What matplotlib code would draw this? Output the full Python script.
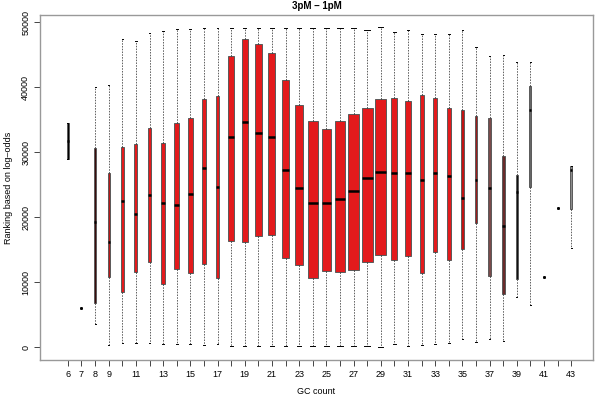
import matplotlib
matplotlib.use("Agg")
import matplotlib.pyplot as plt
import numpy as np

plt.rcParams['font.family'] = ['Liberation Sans', 'DejaVu Sans']

gc = [6, 8, 9, 10, 11, 12, 13, 14, 15, 16, 17, 18, 19, 20, 21, 22, 23, 24, 25,
      26, 27, 28, 29, 30, 31, 32, 33, 34, 35, 36, 37, 38, 39, 40, 43]
whis_lo = [28900, 3490, 300, 560, 560, 670, 410, 410, 460, 300, 410, 200, 200, 200,
           150, 200, 200, 200, 200, 150, 150, 150, 50, 510, 200, 300, 410, 560, 1180,
           820, 1180, 920, 7650, 6470, 15200]
q1 = [28900, 6730, 10830, 8470, 11500, 13140, 9700, 12010, 11350, 12780, 10670, 16280,
      16120, 17050, 17200, 13750, 12670, 10570, 11650, 11600, 11810, 13090, 14120,
      13440, 14060, 11450, 14630, 13350, 15040, 19140, 10980, 8160, 10470, 24690, 21250]
med = [31720, 19200, 16170, 22480, 20430, 23400, 22220, 21910, 23510, 27610, 24590,
       32290, 34600, 33000, 32340, 27300, 24530, 22220, 22220, 22790, 24070, 26020,
       26990, 26840, 26740, 25720, 26840, 26330, 22990, 25670, 24530, 18680, 23820,
       36450, 27210]
q3 = [34540, 30690, 26740, 30750, 31260, 33670, 31360, 34440, 35210, 38140, 38700,
      44810, 47480, 46710, 45220, 41060, 37220, 34750, 33620, 34800, 35930, 36760,
      38190, 38340, 37930, 38760, 38300, 36850, 36490, 35570, 35310, 29460, 26430,
      40190, 27920]
whis_hi = [34540, 40090, 40290, 47380, 47170, 48300, 48660, 49010, 49010, 49070, 49070,
           49070, 49070, 49070, 49070, 49070, 49070, 49070, 49070, 49070, 49070, 48810,
           49230, 48500, 48810, 48150, 48200, 48200, 48810, 46150, 44810, 44960, 43840,
           43840, 27920]
# approximate group sizes (box width ~ sqrt(n), as in varwidth)
counts = [23, 23, 41, 70, 70, 125, 173, 173, 173, 125, 70, 254, 311, 417, 417, 501,
          634, 783, 783, 948, 948, 1000, 1000, 311, 220, 145, 145, 145, 85, 57, 57, 57,
          23, 31, 31]

# groups with a single value
single_gc = [7, 41, 42]
single_val = [6050, 10830, 21400]

fills = ['#000000', '#3a0c0c', '#b81818'] + ['#e31a1c'] * 25 + \
        ['#c01212', '#9c1c1c', '#7a4a4a', '#6a2a2a', '#111111', '#666666', '#8c8c8c']

tick_pos = list(range(6, 44))
tick_lab = [str(t) if (t <= 9 or t % 2 == 1) else '' for t in tick_pos]

fig = plt.figure(figsize=(6, 4), dpi=100)
ax = fig.add_axes([40 / 600, 40 / 400, 553 / 600, 345 / 400])

widths = 0.8 * np.sqrt(np.array(counts) / max(counts))
stats = []
for i in range(len(gc)):
    stats.append(dict(whislo=whis_lo[i], q1=q1[i], med=med[i], q3=q3[i], whishi=whis_hi[i]))

bp = ax.bxp(stats, positions=gc, widths=widths, capwidths=widths * 0.5,
            showfliers=False, patch_artist=True,
            boxprops=dict(edgecolor='#5a5a5a', linewidth=0.7),
            whiskerprops=dict(color='#222222', linewidth=0.5, linestyle=(0, (2.2, 1.8))),
            capprops=dict(color='black', linewidth=0.7),
            medianprops=dict(color='black', linewidth=1.8, solid_capstyle='butt'))
for patch, c in zip(bp['boxes'], fills):
    patch.set_facecolor(c)

ax.plot(single_gc, single_val, 's', color='black', markersize=1.1)

ax.set_xlim(3.95, 44.6)
ax.set_ylim(-2000, 51100)
ax.set_xticks(tick_pos)
ax.set_xticklabels(tick_lab, fontsize=6.5)
ax.set_yticks([0, 10000, 20000, 30000, 40000, 50000])
ax.set_yticklabels(['0', '10000', '20000', '30000', '40000', '50000'],
                   fontsize=6.5, rotation=90, va='center')
ax.tick_params(axis='both', length=4, width=0.7, color='#444444', pad=3)
for s in ax.spines.values():
    s.set_color('#999999')
    s.set_linewidth(1.0)

ax.set_xlabel('GC count', fontsize=6.5, labelpad=6)
ax.set_ylabel('Ranking based on log\u2013odds', fontsize=6.5, labelpad=6)
ax.set_title('3pM \u2013 1pM', fontsize=7, fontweight='bold', pad=4)

fig.savefig('out.png', dpi=100)
